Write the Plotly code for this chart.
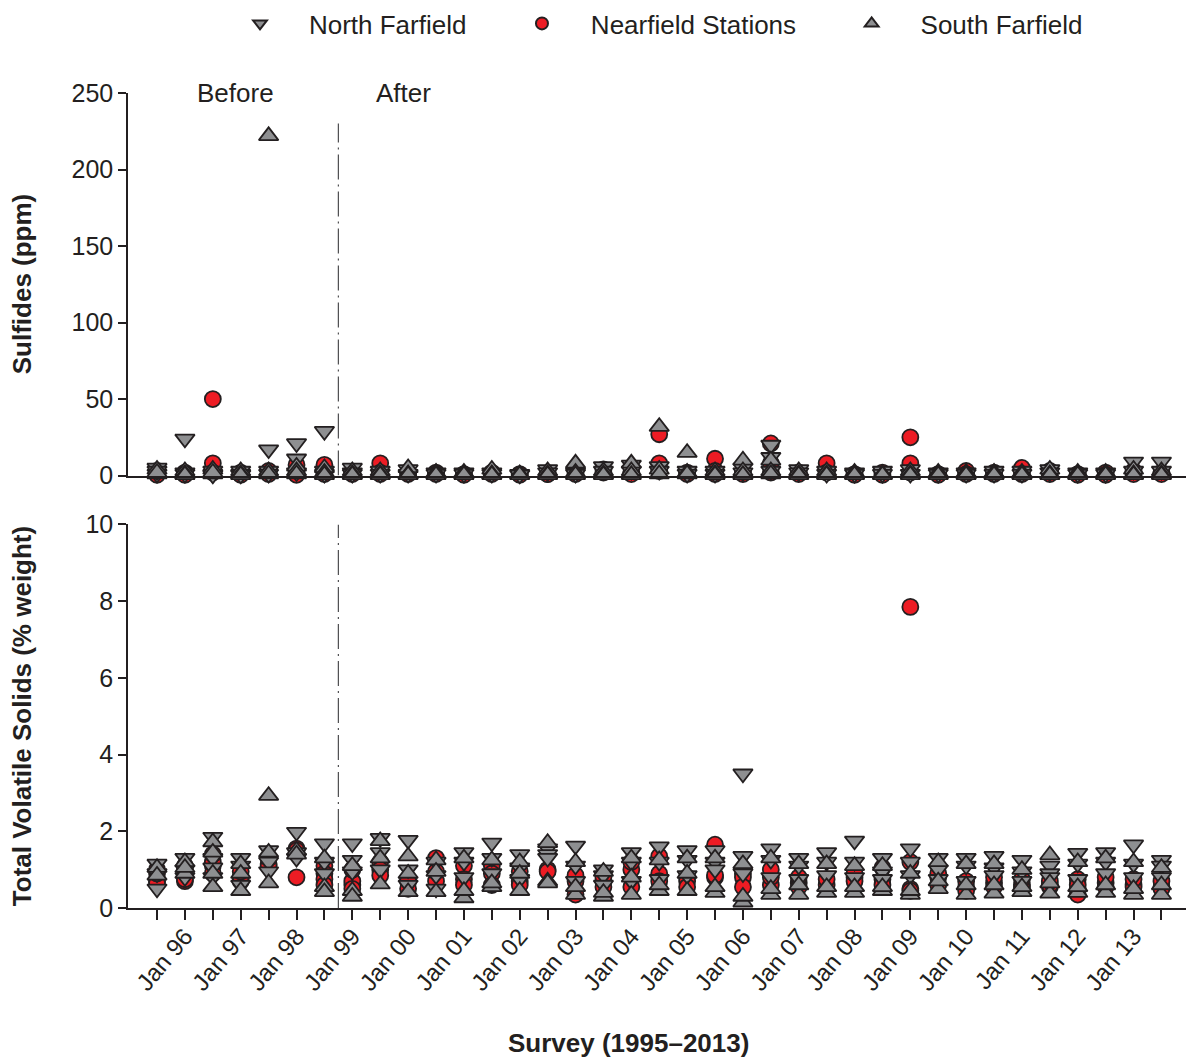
import plotly.graph_objects as go

# ---------------- data ----------------
survey_ticktext = ["", "Jan 96", "", "Jan 97", "", "Jan 98", "", "Jan 99", "", "Jan 00",
                   "", "Jan 01", "", "Jan 02", "", "Jan 03", "", "Jan 04", "", "Jan 05",
                   "", "Jan 06", "", "Jan 07", "", "Jan 08", "", "Jan 09", "", "Jan 10",
                   "", "Jan 11", "", "Jan 12", "", "Jan 13", ""]

sulf_north = [[5, 1, 3], [24, 2, 1], [3, 1, 0.5], [3, 1, 0.5], [17, 3, 1], [21, 11, 2], [29, 3, 1],
              [5, 2, 1], [3, 1], [4, 1], [2, 1], [2, 1], [2, 1], [1, 0.5], [4, 2], [2, 1], [6, 3],
              [7, 3], [6, 3], [3, 1], [3, 1], [5, 2], [20, 12, 3], [4, 2], [3, 1], [2, 1], [3, 1],
              [4, 1], [2, 1], [2, 1], [3, 1], [3, 1], [4, 2], [2, 1], [2, 1], [9, 3], [9, 3]]
sulf_near = [[3, 1, 0.5], [2, 1, 0.5], [50, 8, 2], [2, 1, 0.5], [3, 1], [7, 2, 0.5], [7, 2, 1],
             [2, 1], [8, 2, 1], [2, 1], [2, 1], [1, 0.5], [2, 1], [1, 0.5], [1, 1], [3, 1], [4, 2],
             [2, 1], [27, 8, 3], [2, 1], [11, 3, 1], [3, 1], [21, 8, 2], [2, 1], [8, 2], [1, 0.5],
             [2, 0.5], [25, 8, 2], [1, 0.5], [3, 1], [2, 1], [5, 1], [3, 1], [1, 0.5], [2, 0.5],
             [3, 1], [2, 1]]
sulf_south = [[4, 1, 2], [3, 1, 0.5], [4, 1, 2], [3, 1, 0.5], [222, 3, 1], [6, 3, 1], [5, 2, 0.5],
              [3, 1, 0.5], [3, 1, 0.5], [5, 1, 0.5], [2, 1, 0.5], [2, 1, 0.5], [4, 1, 0.5], [1, 0.5],
              [3, 1, 0.5], [8, 2, 0.5], [3, 1, 0.5], [8, 3, 0.5], [32, 4, 1], [15, 2, 1], [3, 1, 0.5],
              [10, 3, 0.5], [10, 3, 1], [3, 1, 0.5], [3, 1, 0.5], [2, 1, 0.5], [1, 0.5], [3, 1, 0.5],
              [2, 1, 0.5], [2, 1, 0.5], [2, 1, 0.5], [2, 1, 0.5], [4, 1, 0.5], [2, 1, 0.5],
              [2, 1, 0.5], [4, 1, 0.5], [3, 1, 0.5]]

tvs_north = [[1.15, 0.9, 0.5], [1.3, 1.0, 0.8], [1.85, 1.3, 1.05, 0.8], [1.3, 1.1, 0.6],
             [1.5, 1.2, 0.95], [1.98, 1.45, 1.3], [1.68, 1.2, 0.9], [1.68, 1.25, 0.95],
             [1.82, 1.45, 1.0], [1.77, 1.0, 0.6], [1.2, 0.85, 0.5], [1.45, 1.2, 0.8],
             [1.7, 1.3, 0.9], [1.4, 1.05, 0.75], [1.55, 1.4, 1.3], [1.62, 1.1, 0.7],
             [1.0, 0.85, 0.6], [1.45, 1.2, 0.7], [1.6, 1.2, 0.75], [1.5, 1.25, 0.85],
             [1.5, 1.2, 1.0], [3.5, 1.35, 0.9], [1.55, 1.25, 0.8], [1.3, 1.1, 0.75],
             [1.45, 1.2, 0.85], [1.75, 1.2, 0.8], [1.3, 0.95, 0.75], [1.55, 1.2, 0.85],
             [1.3, 1.0, 0.75], [1.3, 1.1, 0.7], [1.35, 1.05, 0.85], [1.25, 0.95, 0.7],
             [1.1, 0.9, 0.8], [1.43, 1.15, 0.75], [1.45, 1.2, 0.9], [1.65, 1.15, 0.8],
             [1.25, 1.1, 0.8]]
tvs_near = [[0.7, 0.65, 1.0, 0.9], [0.7, 0.75, 1.0, 1.1], [1.1, 0.9, 1.2, 1.4], [0.7, 0.8, 0.95],
            [1.15, 1.1, 1.3], [0.8, 1.55, 1.5], [1.1, 0.9, 0.75, 0.6], [0.6, 0.7, 0.5, 1.0],
            [1.2, 1.0, 0.85], [0.75, 0.7, 0.5], [1.3, 0.7, 0.95], [1.1, 0.75, 0.6],
            [1.1, 0.9, 0.6], [0.7, 0.6, 0.95], [1.0, 0.95], [0.7, 0.35, 0.85], [0.7, 0.55, 0.8],
            [1.0, 1.2, 0.55], [1.35, 0.9, 0.7], [0.8, 0.7, 0.55], [1.65, 0.8, 0.85],
            [0.9, 0.8, 0.55], [0.6, 0.8, 1.0], [0.65, 0.55, 0.8], [0.6, 0.75], [0.8, 0.7, 0.9],
            [1.05, 0.75, 0.6], [7.85, 1.2, 0.5, 0.45], [0.8, 0.9, 0.6], [0.55, 0.45, 0.7],
            [0.65, 0.55, 0.8], [0.6, 0.55, 0.75], [0.55, 0.6, 0.7], [0.5, 0.35, 0.75, 0.6],
            [0.65, 0.55, 0.8], [0.6, 0.55, 0.75], [0.55, 0.5, 0.7]]
tvs_south = [[1.05, 0.85], [1.2, 0.9, 1.05], [1.72, 1.45, 0.55, 0.9], [1.15, 0.45, 0.9],
             [2.93, 1.45, 0.65], [1.5, 1.4], [1.3, 0.55, 0.42], [1.1, 0.45, 0.3],
             [1.75, 1.3, 0.62], [1.35, 0.42, 0.9], [1.25, 0.42, 0.95], [1.3, 0.26, 0.45],
             [1.25, 0.55, 0.65], [1.2, 0.45, 0.9], [1.7, 0.7, 0.65], [1.2, 0.35, 0.55],
             [0.95, 0.3, 0.4], [1.3, 0.35, 0.8], [1.25, 0.45, 0.6], [1.3, 0.45, 0.9],
             [1.3, 0.4, 0.55], [1.15, 0.15, 0.3], [1.3, 0.35, 0.5], [1.15, 0.35, 0.6],
             [1.15, 0.4, 0.55], [1.1, 0.4, 0.55], [1.1, 0.45, 0.55], [0.9, 0.35, 0.45],
             [1.2, 0.5, 0.7], [1.15, 0.35, 0.6], [1.15, 0.38, 0.6], [1.0, 0.42, 0.55],
             [1.38, 0.38, 0.65], [1.2, 0.4, 0.55], [1.3, 0.4, 0.6], [1.2, 0.35, 0.5],
             [1.05, 0.35, 0.6]]

# ---------------- styling ----------------
FONT = "Liberation Sans, Arial, sans-serif"
INK = "#231f20"
GRAY = "#8e8f91"
RED = "#ed1c24"
W, H = 1186, 1059
L, R, T = 128, 0, 90
B = H - 908
plot_h = H - T - B
pw = W - L - R
top_domain = [(908 - 474) / plot_h, 1.0]
bot_domain = [0.0, (908 - 523) / plot_h]


def flatten(groups):
    xs, ys = [], []
    for i, vals in enumerate(groups):
        for v in vals:
            xs.append(i)
            ys.append(v)
    return xs, ys


NB = "\u00a0"
series = [
    (NB * 4 + "Nearfield Stations" + NB * 7, "circle", RED, 16, sulf_near, tvs_near, 2),
    (NB * 4 + "North Farfield" + NB * 7, "triangle-down", GRAY, 17, sulf_north, tvs_north, 1),
    (NB * 4 + "South Farfield", "triangle-up", GRAY, 17, sulf_south, tvs_south, 3),
]

fig = go.Figure()
for name, sym, col, size, sdat, tdat, rank in series:
    xs, ys = flatten(sdat)
    fig.add_trace(go.Scatter(
        x=xs, y=ys, mode="markers", name=name, legendrank=rank,
        marker=dict(symbol=sym, color=col, size=size, line=dict(color=INK, width=1.8)),
        cliponaxis=False, xaxis="x", yaxis="y"))
    xs, ys = flatten(tdat)
    fig.add_trace(go.Scatter(
        x=xs, y=ys, mode="markers", name=name, showlegend=False,
        marker=dict(symbol=sym, color=col, size=size, line=dict(color=INK, width=1.8)),
        cliponaxis=False, xaxis="x2", yaxis="y2"))

xrange = [-1.04, 36.88]
axis_common = dict(showline=True, linecolor=INK, linewidth=1.5, showgrid=False, zeroline=False)

fig.update_layout(
    width=W, height=H,
    margin=dict(l=L, r=R, t=T, b=B),
    paper_bgcolor="white", plot_bgcolor="white",
    font=dict(family=FONT, color=INK, size=25),
    showlegend=True,
    legend=dict(orientation="h", x=(240 - 128) / pw, xanchor="left",
                y=1 + 70 / plot_h, yanchor="middle",
                font=dict(family=FONT, size=26, color=INK), itemsizing="constant",
                bgcolor="rgba(0,0,0,0)"),
    xaxis=dict(domain=[0, 1], range=xrange, anchor="y", showticklabels=False, ticks="",
               **axis_common),
    yaxis=dict(domain=top_domain, range=[0, 250], tickvals=[0, 50, 100, 150, 200, 250],
               ticks="outside", ticklen=8, tickwidth=1.5, tickcolor=INK, anchor="x",
               tickfont=dict(family=FONT, size=25, color=INK), **axis_common),
    xaxis2=dict(domain=[0, 1], range=xrange, anchor="y2", tickvals=list(range(37)),
                ticktext=survey_ticktext, tickangle=-50, ticks="outside", ticklen=10,
                tickwidth=1.5, tickcolor=INK, tickfont=dict(family=FONT, size=24, color=INK),
                ticklabelstandoff=-7, **axis_common),
    yaxis2=dict(domain=bot_domain, range=[0, 10], tickvals=[0, 2, 4, 6, 8, 10],
                ticks="outside", ticklen=8, tickwidth=1.5, tickcolor=INK, anchor="x2",
                tickfont=dict(family=FONT, size=25, color=INK), **axis_common),
)

# before/after divider
dash = "25px,5px,2px,5px"
fig.add_shape(type="line", xref="x", yref="y", x0=6.5, x1=6.5, y0=0, y1=230,
              line=dict(color="#4d4d4f", width=1.2, dash=dash))
fig.add_shape(type="line", xref="x2", yref="y2", x0=6.5, x1=6.5, y0=0, y1=10,
              line=dict(color="#4d4d4f", width=1.2, dash=dash))

fig.add_annotation(x=2.8, y=250, xref="x", yref="y", text="Before", showarrow=False,
                   font=dict(family=FONT, size=26, color=INK), xanchor="center", yanchor="middle")
fig.add_annotation(x=8.85, y=250, xref="x", yref="y", text="After", showarrow=False,
                   font=dict(family=FONT, size=26, color=INK), xanchor="center", yanchor="middle")

# axis titles
fig.add_annotation(x=(22 - 128) / pw, y=(top_domain[0] + top_domain[1]) / 2, xref="paper", yref="paper",
                   text="<b>Sulfides (ppm)</b>", textangle=-90, showarrow=False,
                   font=dict(family=FONT, size=26, color=INK), xanchor="center", yanchor="middle")
fig.add_annotation(x=(22 - 128) / pw, y=(bot_domain[0] + bot_domain[1]) / 2, xref="paper", yref="paper",
                   text="<b>Total Volatile Solids (% weight)</b>", textangle=-90, showarrow=False,
                   font=dict(family=FONT, size=26, color=INK), xanchor="center", yanchor="middle")
fig.add_annotation(x=(628 - 128) / pw, y=(908 - 1043) / plot_h, xref="paper", yref="paper",
                   text="<b>Survey (1995\u20132013)</b>", showarrow=False,
                   font=dict(family=FONT, size=26, color=INK), xanchor="center", yanchor="middle")

fig.write_html("out.html", config={"displayModeBar": False},
               post_script="document.body.style.margin='0';document.body.style.overflow='hidden';")
